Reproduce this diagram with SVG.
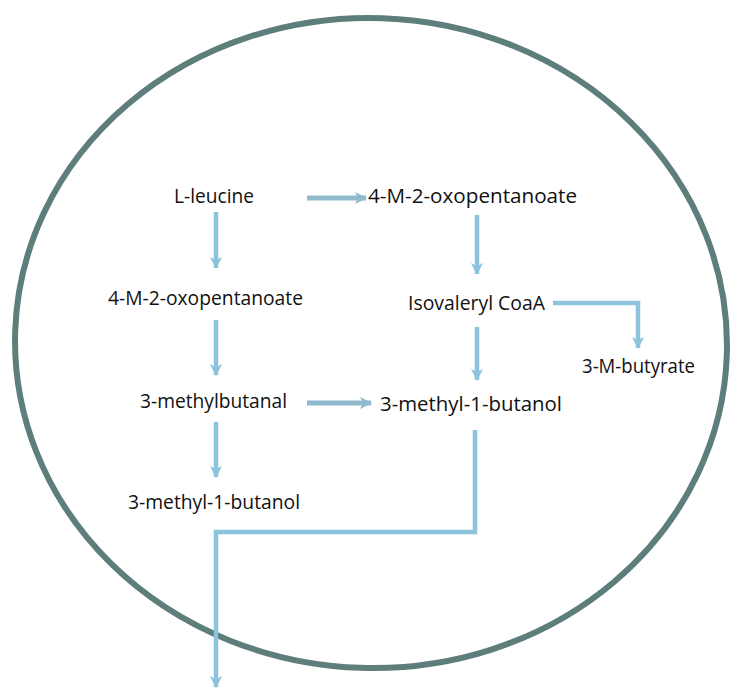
<svg xmlns="http://www.w3.org/2000/svg" width="732" height="688" viewBox="0 0 732 688">
<style>
.t{font-family:"Open Sans","Liberation Sans",sans-serif;font-size:20px;fill:#111}
.a{fill:none;stroke:#8cc3dd;stroke-width:4.5}
.h{fill:none;stroke:#8fb9cc;stroke-width:5}
</style>
<defs>
<marker id="m" markerUnits="userSpaceOnUse" markerWidth="14" markerHeight="14" refX="11" refY="7" orient="auto">
<path d="M0,1 L12,7 L0,13 L3,7 Z" fill="#8cc3dd"/>
</marker>
<marker id="mh" markerUnits="userSpaceOnUse" markerWidth="14" markerHeight="14" refX="11" refY="7" orient="auto">
<path d="M0,1 L12,7 L0,13 L3,7 Z" fill="#8fb9cc"/>
</marker>
</defs>
<rect width="732" height="688" fill="#fff"/>
<ellipse id="cell" cx="371" cy="343" rx="356" ry="325" fill="none" stroke="#5e7e7b" stroke-width="6" transform="rotate(2 371 343)"/>
<g id="connectors">
<path class="h" d="M307,198 H366" marker-end="url(#mh)"/>
<path class="a" d="M216,212 V268" marker-end="url(#m)"/>
<path class="a" d="M477,215 V274" marker-end="url(#m)"/>
<path class="a" d="M216,320 V375" marker-end="url(#m)"/>
<path class="a" d="M553,303 H638 V348" marker-end="url(#m)"/>
<path class="a" d="M477,327 V380" marker-end="url(#m)"/>
<path class="h" d="M307,403 H371" marker-end="url(#mh)"/>
<path class="a" d="M216,422 V477" marker-end="url(#m)"/>
<path class="a" stroke-width="3.5" d="M475,430 V532 H216 V687" marker-end="url(#m)"/>
</g>
<g id="n-leucine"><text class="t" x="174" y="203" textLength="80" lengthAdjust="spacingAndGlyphs">L-leucine</text></g>
<g id="n-oxo1"><text class="t" x="368" y="203" textLength="209" lengthAdjust="spacingAndGlyphs">4-M-2-oxopentanoate</text></g>
<g id="n-oxo2"><text class="t" x="108" y="305" textLength="195" lengthAdjust="spacingAndGlyphs">4-M-2-oxopentanoate</text></g>
<g id="n-isovaleryl"><text class="t" x="408" y="310" textLength="137" lengthAdjust="spacingAndGlyphs">Isovaleryl CoaA</text></g>
<g id="n-butyrate"><text class="t" x="582" y="373" textLength="113" lengthAdjust="spacingAndGlyphs">3-M-butyrate</text></g>
<g id="n-butanal"><text class="t" x="140" y="408" textLength="147" lengthAdjust="spacingAndGlyphs">3-methylbutanal</text></g>
<g id="n-butanol1"><text class="t" x="380" y="411" textLength="182" lengthAdjust="spacingAndGlyphs">3-methyl-1-butanol</text></g>
<g id="n-butanol2"><text class="t" x="128" y="509" textLength="172" lengthAdjust="spacingAndGlyphs">3-methyl-1-butanol</text></g>
</svg>
